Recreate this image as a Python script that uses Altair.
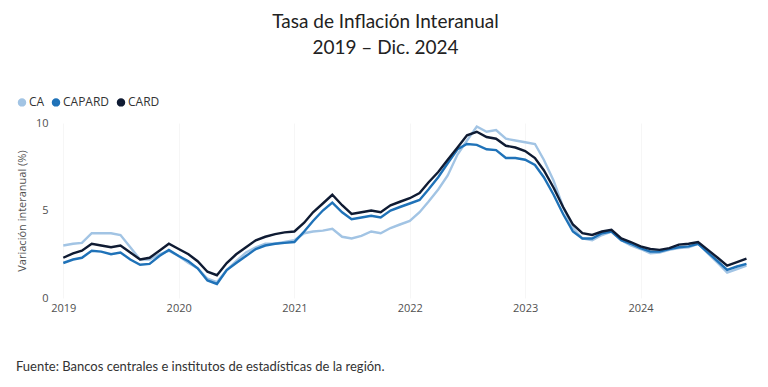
import altair as alt
import pandas as pd

series = ["CA", "CAPARD", "CARD"]
colors = ["#a2c4e4", "#1f72b8", "#0f1b33"]

ca = [3.0, 3.1, 3.15, 3.7, 3.7, 3.7, 3.6, 2.9, 2.2, 2.2, 2.5, 2.7,
      2.4, 2.0, 1.7, 1.1, 0.9, 1.6, 2.1, 2.6, 2.9, 3.1, 3.1, 3.2,
      3.3, 3.7, 3.8, 3.85, 3.95, 3.5, 3.4, 3.55, 3.8, 3.7, 4.0, 4.2,
      4.4, 4.9, 5.5, 6.2, 7.0, 8.2, 9.0, 9.8, 9.5, 9.6, 9.1, 9.0,
      8.9, 8.8, 7.9, 6.7, 5.2, 4.0, 3.4, 3.3, 3.6, 3.8, 3.3, 3.0,
      2.8, 2.55, 2.6, 2.75, 2.85, 2.9, 3.1, 2.55, 2.0, 1.45, 1.65, 1.85]

capard = [2.0, 2.2, 2.3, 2.7, 2.65, 2.5, 2.6, 2.2, 1.9, 1.95, 2.4, 2.75,
          2.4, 2.1, 1.7, 1.0, 0.8, 1.6, 2.0, 2.4, 2.8, 3.0, 3.1, 3.15,
          3.2, 3.8, 4.4, 5.0, 5.45, 4.9, 4.5, 4.6, 4.7, 4.6, 5.0, 5.2,
          5.4, 5.6, 6.2, 6.9, 7.7, 8.5, 8.8, 8.75, 8.5, 8.45, 8.0, 8.0,
          7.9, 7.6, 6.9, 5.9, 4.8, 3.8, 3.4, 3.4, 3.7, 3.8, 3.3, 3.1,
          2.85, 2.65, 2.65, 2.8, 2.9, 2.95, 3.1, 2.6, 2.1, 1.6, 1.8, 1.95]

card = [2.3, 2.55, 2.7, 3.1, 3.0, 2.9, 3.0, 2.6, 2.2, 2.3, 2.7, 3.1,
        2.8, 2.5, 2.1, 1.5, 1.3, 2.0, 2.5, 2.9, 3.3, 3.5, 3.65, 3.75,
        3.8, 4.3, 4.9, 5.4, 5.9, 5.3, 4.8, 4.9, 5.0, 4.9, 5.3, 5.5,
        5.7, 6.0, 6.6, 7.2, 7.9, 8.6, 9.3, 9.5, 9.2, 9.1, 8.7, 8.6,
        8.4, 8.0, 7.3, 6.3, 5.2, 4.2, 3.7, 3.6, 3.8, 3.9, 3.4, 3.2,
        2.95, 2.8, 2.75, 2.85, 3.05, 3.1, 3.2, 2.75, 2.3, 1.85, 2.05, 2.25]

year_ticks = ["2019-01-01", "2020-01-01", "2021-01-01", "2022-01-01", "2023-01-01", "2024-01-01"]
y_ticks = [0, 5, 10]
title_lines = ["Tasa de Inflación Interanual", "2019 – Dic. 2024"]
source_note = ["Fuente: Bancos centrales e institutos de estadísticas de la región."]

months = pd.date_range("2019-01-01", periods=72, freq="MS")
rows = []
for name, vals in zip(series, [ca, capard, card]):
    for m, v in zip(months, vals):
        rows.append({"fecha": m.strftime("%Y-%m-%d"), "serie": name, "valor": v})
df = pd.DataFrame(rows)

W, H = 699, 175

lines = alt.Chart(df).mark_line(strokeWidth=2.4, interpolate="linear").encode(
    x=alt.X("fecha:T",
            scale=alt.Scale(domain=["2018-12-09", "2024-12-28"]),
            axis=alt.Axis(values=year_ticks, format="%Y", title=None, domain=False,
                          ticks=False, grid=True, gridColor="#f6f6f6", labelAlign="center",
                          labelPadding=4, labelFontSize=11, labelColor="#505050",
                          labelFont="Open Sans")),
    y=alt.Y("valor:Q",
            scale=alt.Scale(domain=[0, 10], nice=False),
            axis=alt.Axis(values=y_ticks, title="Variación interanual (%)", domain=False,
                          ticks=False, grid=False, labelPadding=8, labelFontSize=11,
                          labelColor="#505050", labelFont="Open Sans",
                          titleFont="Open Sans", titleFontSize=11, titleFontWeight="normal",
                          titleColor="#505050", titlePadding=8)),
    color=alt.Color("serie:N",
                    scale=alt.Scale(domain=series, range=colors),
                    legend=alt.Legend(title=None, orient="none", direction="horizontal",
                                      legendX=-40, legendY=-27, symbolType="circle",
                                      symbolSize=20, symbolStrokeWidth=4,
                                      labelFont="Open Sans", labelFontSize=12,
                                      labelColor="#333333", columnPadding=0,
                                      labelOffset=1)),
    order=alt.Order("serie:N"),
)

note_df = pd.DataFrame({"t": source_note})
note = alt.Chart(note_df).mark_text(align="left", baseline="middle", fontSize=13,
                                     font="Lato", color="#333333").encode(
    text="t:N", x=alt.value(-40), y=alt.value(244))

chart = alt.layer(lines, note).properties(
    width=W, height=H,
    padding={"left": 8, "top": 5, "right": 5, "bottom": 5},
    title=alt.TitleParams(title_lines, fontSize=19, font="Lato", fontWeight="normal",
                          color="#222222", anchor="middle", frame="bounds",
                          lineHeight=26, offset=38),
).configure_view(stroke=None)

chart.save("out.html", embed_options={"renderer": "svg", "actions": False})
